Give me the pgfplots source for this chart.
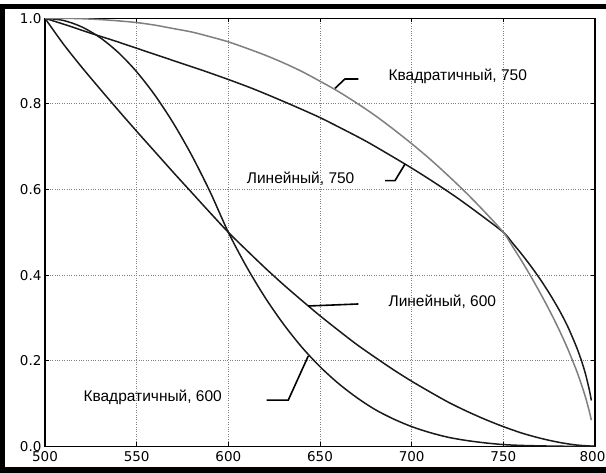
\documentclass[border=0pt]{standalone}
\usepackage{fontspec}
\setmainfont{Liberation Sans}
\newfontfamily\tickfont{DejaVu Sans}
\usepackage{pgfplots}
\pgfplotsset{compat=1.18}
\usepackage{pgfplotstable}

\pgfplotstableread{
x y
500 1.000
510 0.940
520 0.886
530 0.835
540 0.785
550 0.736
560 0.688
570 0.640
580 0.593
590 0.546
600 0.500
610 0.458
620 0.417
630 0.378
640 0.341
650 0.305
660 0.271
670 0.238
680 0.208
690 0.179
700 0.152
710 0.127
720 0.103
730 0.082
740 0.063
750 0.046
760 0.031
770 0.019
780 0.0095
790 0.0029
800 0.000
}\linsix

\pgfplotstableread{
x y
500 1.000
510 0.995
520 0.980
530 0.955
540 0.920
550 0.875
560 0.820
570 0.755
580 0.680
590 0.595
600 0.500
610 0.419
620 0.348
630 0.286
640 0.232
650 0.186
660 0.147
670 0.114
680 0.086
690 0.064
700 0.046
710 0.032
720 0.021
730 0.0135
740 0.008
750 0.004
760 0.002
770 0.001
780 0.0002
790 0.0
800 0.0
}\quadsix

\pgfplotstableread{
x y
500 1.000
512.5 0.983
525 0.965
537.5 0.948
550 0.930
562.5 0.912
575 0.894
587.5 0.876
600 0.857
612.5 0.837
625 0.815
637.5 0.792
650 0.768
662.5 0.741
675 0.713
687.5 0.682
700 0.650
712.5 0.616
725 0.580
737.5 0.541
750 0.500
755 0.475
760 0.449
765 0.421
770 0.391
775 0.358
780 0.322
785 0.281
790 0.231
793 0.195
795 0.166
797 0.130
798 0.107
}\linseven

\pgfplotstableread{
x y
500 1.000
510 1.000
520 0.999
530 0.997
540 0.994
550 0.990
560 0.984
570 0.976
580 0.968
590 0.957
600 0.945
610 0.930
620 0.914
630 0.896
640 0.876
650 0.853
660 0.829
670 0.802
680 0.773
690 0.741
700 0.707
710 0.671
720 0.632
730 0.591
740 0.547
750 0.500
755 0.467
760 0.433
765 0.397
770 0.359
775 0.319
780 0.276
785 0.229
790 0.176
793 0.139
795 0.112
797 0.080
798 0.061
}\quadseven

\definecolor{curveblack}{HTML}{1A1A1A}
\definecolor{curvegray}{HTML}{7F7F7F}

\begin{document}
\begin{tikzpicture}[x=1pt,y=1pt]
\path[use as bounding box] (0,0) rectangle (606,473);
\fill[black] (0,464) rectangle (606,469);
\fill[black] (0,0) rectangle (5,469);
\fill[black] (0,0) rectangle (606,6);
\begin{axis}[
  at={(45pt,26.7pt)}, anchor=south west,
  scale only axis, width=550pt, height=428pt,
  xmin=500, xmax=800, ymin=0, ymax=1,
  xtick={500,550,600,650,700,750,800},
  xticklabels={500,550,600,650,700,750,{800\hspace*{5pt}}},
  ytick={0,0.2,0.4,0.6,0.8,1.0},
  yticklabels={0.0,0.2,0.4,0.6,0.8,1.0},
  grid=major,
  major grid style={dotted, line width=0.9pt, color=black!50},
  tick align=inside,
  major tick length=4pt,
  tick style={black, line width=0.8pt},
  axis line style={black, line width=1.1pt},
  every tick label/.append style={font=\tickfont\fontsize{13.5}{13.5}\selectfont},
  xticklabel style={yshift=-1.5pt},
  clip=true,
]
\addplot[curveblack, line width=1.5pt, smooth] table[x=x,y=y] {\linsix};
\addplot[curveblack, line width=1.5pt, smooth] table[x=x,y=y] {\quadsix};
\addplot[curveblack, line width=1.5pt, smooth] table[x=x,y=y] {\linseven};
\addplot[curvegray, line width=1.5pt, smooth] table[x=x,y=y] {\quadseven};

\draw[black, line width=1.6pt] (axis cs:658.2,0.8364) -- (axis cs:663.6,0.8582) -- (axis cs:670.9,0.8582);
\node[anchor=west, inner sep=0pt, font=\fontsize{15.5}{15.5}\selectfont] at (axis cs:687.3,0.8636) {Квадратичный, 750};

\draw[black, line width=1.6pt] (axis cs:696.4,0.6596) -- (axis cs:690.9,0.6206) -- (axis cs:685.5,0.6206);
\node[anchor=west, inner sep=0pt, font=\fontsize{15.5}{15.5}\selectfont] at (axis cs:610.0,0.6245) {Линейный, 750};

\draw[black, line width=1.6pt] (axis cs:643.6,0.3278) -- (axis cs:670.9,0.3325);
\node[anchor=west, inner sep=0pt, font=\fontsize{15.5}{15.5}\selectfont] at (axis cs:687.3,0.338) {Линейный, 600};

\draw[black, line width=1.6pt] (axis cs:643.6,0.211) -- (axis cs:632.7,0.108) -- (axis cs:620.9,0.108);
\node[anchor=west, inner sep=0pt, font=\fontsize{15.5}{15.5}\selectfont] at (axis cs:520.9,0.1136) {Квадратичный, 600};
\end{axis}
\end{tikzpicture}
\end{document}
